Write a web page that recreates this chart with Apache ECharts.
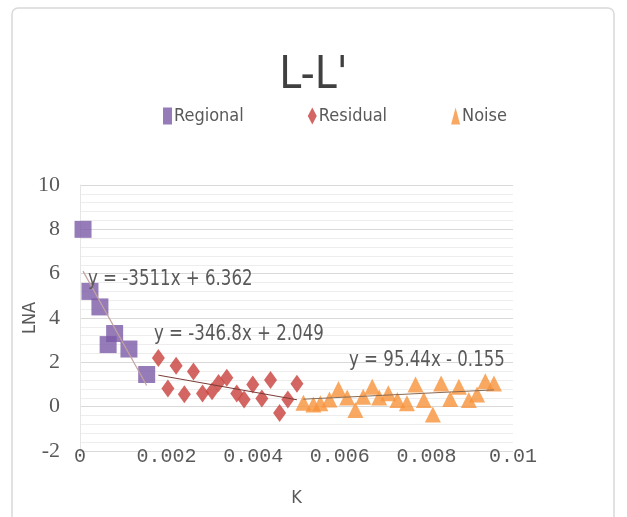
<!DOCTYPE html>
<html>
<head>
<meta charset="utf-8">
<script src="https://cdn.jsdelivr.net/npm/echarts@6/dist/echarts.min.js"></script>
<style>
html,body{margin:0;padding:0;background:#fff;}
#c{width:627px;height:517px;}
</style>
</head>
<body>
<div id="c"></div>
<script>
// ---- data ----
var regionalK = [0.00007, 0.00023, 0.00046, 0.00065, 0.00080, 0.00113, 0.00154];
var regionalV = [8.0, 5.2, 4.5, 2.8, 3.3, 2.6, 1.45];

var residualK = [0.00181, 0.00203, 0.00222, 0.00241, 0.00262, 0.00283, 0.00305, 0.00320, 0.00339, 0.00362, 0.00379, 0.00399, 0.00420, 0.00440, 0.00461, 0.00480, 0.00501];
var residualV = [2.2, 0.82, 1.85, 0.56, 1.59, 0.59, 0.69, 1.07, 1.3, 0.59, 0.32, 1.0, 0.37, 1.2, -0.29, 0.32, 1.03];

var noiseK = [0.00516, 0.00539, 0.00555, 0.00576, 0.00597, 0.00617, 0.00636, 0.00654, 0.00675, 0.00691, 0.00712, 0.00733, 0.00755, 0.00775, 0.00794, 0.00815, 0.00834, 0.00855, 0.00875, 0.00898, 0.00917, 0.00936, 0.00956];
var noiseV = [0.18, 0.1, 0.15, 0.32, 0.8, 0.41, -0.15, 0.45, 0.9, 0.41, 0.6, 0.3, 0.15, 1.0, 0.3, -0.35, 1.05, 0.35, 0.9, 0.3, 0.55, 1.15, 1.05];

// trendline coefficients [slope, intercept] as printed on the chart
var regionalFit = [-3511, 6.362];
var residualFit = [-346.8, 2.049];
var noiseFit = [95.44, -0.155];
var fitLabels = ['y = -3511x + 6.362', 'y = -346.8x + 2.049', 'y = 95.44x - 0.155'];

var seriesNames = ['Regional', 'Residual', 'Noise'];
var titleText = "L-L'";
var xName = 'K';
var yName = 'LNA';

// ---- helpers ----
function pairs(ks, vs){ return ks.map(function(k,i){ return [k, vs[i]]; }); }
function fitLine(ks, c){
  var a = Math.min.apply(null, ks), b = Math.max.apply(null, ks);
  return [[a, c[0]*a + c[1]], [b, c[0]*b + c[1]]];
}

var narrow = "'DejaVu Sans Condensed', 'Liberation Sans Narrow', 'Arial Narrow', 'Noto Sans', sans-serif";
var colors = ['#7b5aa6', '#c8403b', '#f7923a'];

var chart = echarts.init(document.getElementById('c'), null, {renderer:'canvas'});
chart.setOption({
  animation: false,
  backgroundColor: '#ffffff',
  title: {
    text: titleText, left: 'center', top: 50,
    textStyle: {fontFamily: narrow, fontSize: 44, fontWeight: 'normal', color: '#404040'}
  },
  legend: {
    data: [
      {name: seriesNames[0], icon: 'rect'},
      {name: seriesNames[1], icon: 'diamond'},
      {name: seriesNames[2], icon: 'triangle'}
    ],
    left: 158, top: 102, itemGap: 64, itemWidth: 9, itemHeight: 17,
    textStyle: {fontFamily: narrow, fontSize: 18, color: '#595959', padding: [0,0,0,-3]}
  },
  grid: {left: 80, right: 114, top: 185, bottom: 66, containLabel: false},
  xAxis: {
    type: 'value', min: 0, max: 0.01, interval: 0.002,
    name: xName, nameLocation: 'middle', nameGap: 38,
    nameTextStyle: {fontFamily: narrow, fontSize: 18, color: '#595959'},
    axisLine: {show: false},
    axisTick: {show: false},
    axisLabel: {margin: -4, fontFamily: "'Liberation Mono', 'DejaVu Sans Mono', monospace", fontSize: 20, color: '#595959',
      formatter: function(v){ return v === 0 ? '0' : String(+v.toFixed(3)); }},
    splitLine: {show: false}
  },
  yAxis: {
    type: 'value', min: -2, max: 10, interval: 2,
    name: yName, nameLocation: 'middle', nameGap: 41, nameMoveOverlap: false,
    nameTextStyle: {fontFamily: narrow, fontSize: 18, color: '#595959'},
    axisLine: {show: true, lineStyle: {color: '#e6e6e6'}},
    axisTick: {show: false},
    axisLabel: {margin: 20, fontFamily: "'Liberation Serif', 'DejaVu Serif', serif", fontSize: 22, color: '#595959'},
    splitLine: {show: true, lineStyle: {color: '#d9d9d9', width: 1}},
    minorTick: {show: false, splitNumber: 5},
    minorSplitLine: {show: true, lineStyle: {color: '#ededed', width: 1}}
  },
  graphic: [
    {type: 'rect', shape: {x: 12, y: 8, width: 602, height: 520, r: 6}, style: {fill: 'none', stroke: '#d9d9d9', lineWidth: 1.5}, z: -1},
    {type: 'text', x: 88, y: 269, scaleX: 0.88, style: {text: fitLabels[0], fontFamily: narrow, fontSize: 21, fill: '#595959'}, z: 10},
    {type: 'text', x: 154, y: 324, scaleX: 0.88, style: {text: fitLabels[1], fontFamily: narrow, fontSize: 21, fill: '#595959'}, z: 10},
    {type: 'text', x: 349, y: 350, scaleX: 0.88, style: {text: fitLabels[2], fontFamily: narrow, fontSize: 21, fill: '#595959'}, z: 10}
  ],
  series: [
    {name: seriesNames[2], type: 'scatter', symbol: 'triangle', symbolSize: [16, 16], data: pairs(noiseK, noiseV), itemStyle: {color: colors[2]}, z: 2},
    {name: seriesNames[1], type: 'scatter', symbol: 'diamond', symbolSize: [13, 18], data: pairs(residualK, residualV), itemStyle: {color: colors[1]}, z: 3},
    {name: seriesNames[0], type: 'scatter', symbol: 'rect', symbolSize: [17, 17], data: pairs(regionalK, regionalV), itemStyle: {color: colors[0]}, z: 4},
    {type: 'line', data: fitLine(regionalK, regionalFit), showSymbol: false, silent: true, lineStyle: {color: '#c4a2a0', width: 1.2}, z: 6},
    {type: 'line', data: fitLine(residualK, residualFit), showSymbol: false, silent: true, lineStyle: {color: '#7a3a36', width: 1}, z: 6},
    {type: 'line', data: fitLine(noiseK, noiseFit), showSymbol: false, silent: true, lineStyle: {color: '#8a6a50', width: 1}, z: 6}
  ]
});
</script>
</body>
</html>
